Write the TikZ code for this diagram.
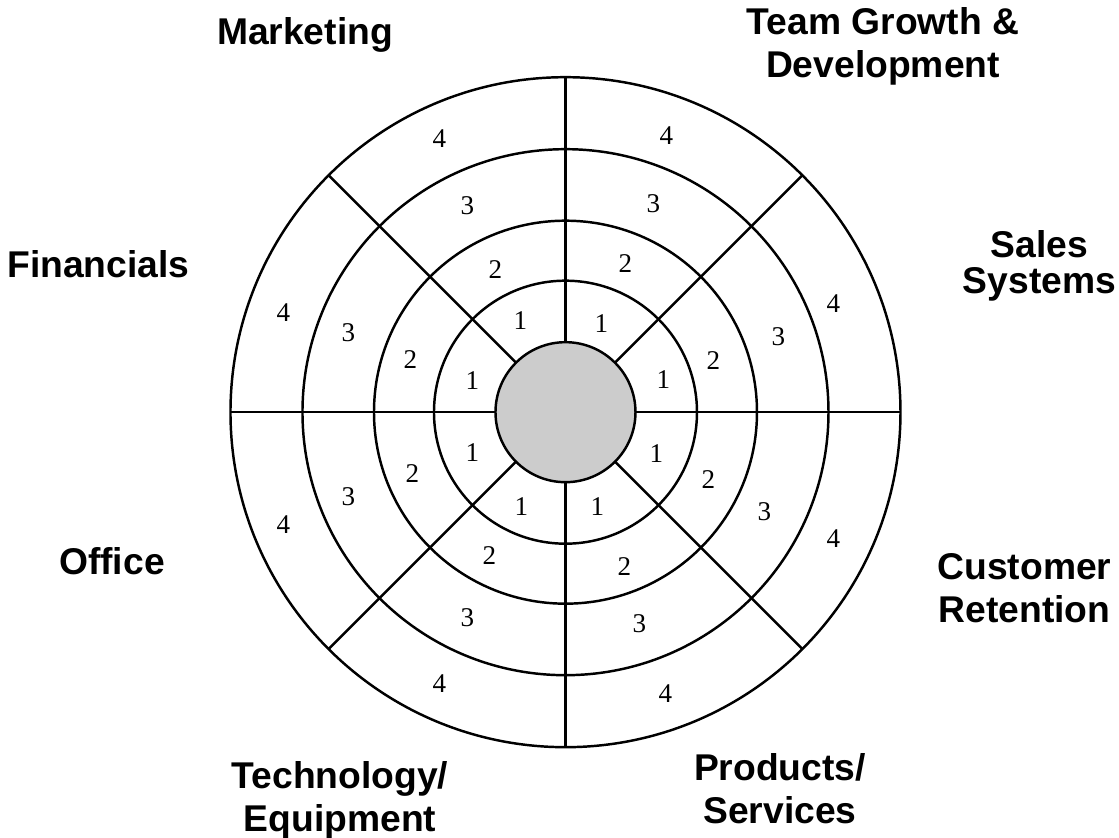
\documentclass[tikz,border=0pt]{standalone}
\usepackage{fontspec}
\setmainfont{Liberation Serif}
\setsansfont{Liberation Sans}
\usepackage{tikz}
\usetikzlibrary{calc}

\begin{document}
\begin{tikzpicture}[
    ring/.style = {draw, line width=0.7pt},
    score/.style = {font=\fontsize{7.7}{9}\selectfont, inner sep=0pt},
    area/.style = {font=\sffamily\bfseries\fontsize{10.6}{12.2}\selectfont,
        align=center, anchor=north, inner sep=0pt}
  ]
  \useasboundingbox (-5.655,-4.258) rectangle (5.535,4.122);

  % rings and spokes
  \foreach \r in {3.35, 2.63, 1.915, 1.315}
    \draw[ring] (0,0) circle (\r);
  \node[circle, ring, fill=black!20, minimum size=1.4cm,
      inner sep=0pt, outer sep=0pt] (hub) at (0,0) {};
  \foreach \a in {0,45,...,315}
    \draw[ring] (hub.\a) -- (\a:3.35);

  % scores
  \foreach \x/\y/\t [count=\n] in {
      -0.45/0.92/1, -0.70/1.43/2, -0.98/2.07/3, -1.26/2.74/4,
      0.36/0.89/1, 0.60/1.49/2, 0.88/2.09/3, 1.01/2.77/4,
      0.98/0.33/1, 1.48/0.52/2, 2.13/0.76/3, 2.68/1.09/4,
      0.91/-0.41/1, 1.43/-0.67/2, 1.99/-0.99/3, 2.68/-1.26/4,
      0.32/-0.94/1, 0.59/-1.54/2, 0.74/-2.11/3, 1.00/-2.81/4,
      -0.44/-0.94/1, -0.76/-1.43/2, -0.98/-2.05/3, -1.26/-2.71/4,
      -0.93/-0.40/1, -1.53/-0.61/2, -2.17/-0.84/3, -2.82/-1.12/4,
      -0.93/0.32/1, -1.55/0.53/2, -2.17/0.80/3, -2.82/1.00/4}
    \node[score] (score\n) at (\x,\y) {\t};

  % areas
  \node[area] (marketing) at (-2.605,3.952) {Marketing};
  \node[area] (team) at (3.175,4.052) {Team Growth \&\\Development};
  \node[area] (sales) at (4.74,1.822) {Sales\\[-2pt]Systems};
  \node[area] (customer) at (4.59,-1.408) {Customer\\Retention};
  \node[area] (products) at (2.145,-3.408) {Products/\\Services};
  \node[area] (technology) at (-2.255,-3.488) {Technology/\\Equipment};
  \node[area] (office) at (-4.535,-1.348) {Office};
  \node[area] (financials) at (-4.67,1.622) {Financials};
\end{tikzpicture}
\end{document}
